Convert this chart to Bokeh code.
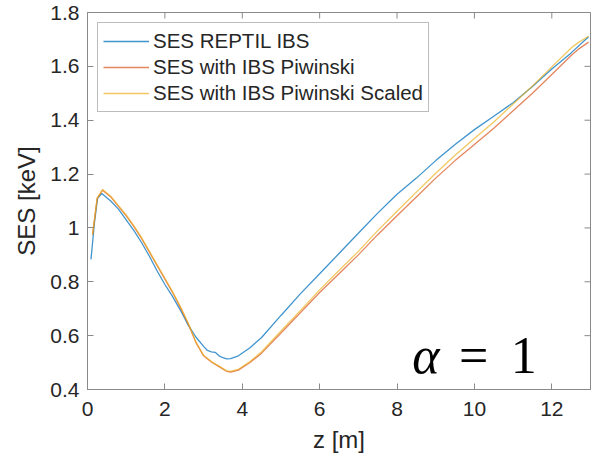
from bokeh.plotting import figure
from bokeh.models import Range1d, FixedTicker, Legend, LegendItem, Label
from bokeh.embed import file_html
from bokeh.resources import INLINE

# ---- data ----
z_reptil = [0.09, 0.18, 0.26, 0.37, 0.6, 0.8, 1.0, 1.2, 1.4, 1.6, 1.8, 2.0, 2.2, 2.4, 2.6, 2.8,
            3.0, 3.1, 3.2, 3.3, 3.4, 3.5, 3.6, 3.7, 3.9, 4.2, 4.5, 5.0, 5.5, 6.0, 6.5, 7.0,
            7.5, 8.0, 8.5, 9.0, 9.5, 10.0, 10.5, 11.0, 11.5, 12.0, 12.5, 12.95]
ses_reptil = [0.883, 1.02, 1.11, 1.128, 1.10, 1.07, 1.03, 0.99, 0.945, 0.895, 0.84, 0.79, 0.745,
              0.695, 0.64, 0.595, 0.56, 0.545, 0.54, 0.538, 0.525, 0.518, 0.514, 0.515, 0.525,
              0.555, 0.593, 0.675, 0.755, 0.83, 0.905, 0.98, 1.055, 1.125, 1.185, 1.25, 1.31,
              1.365, 1.415, 1.465, 1.525, 1.59, 1.65, 1.71]

z_piw = [0.13, 0.25, 0.39, 0.6, 0.8, 1.0, 1.2, 1.4, 1.6, 1.8, 2.0, 2.2, 2.4, 2.6, 2.8, 3.0,
         3.2, 3.4, 3.6, 3.7, 3.9, 4.2, 4.5, 5.0, 5.5, 6.0, 6.5, 7.0, 7.5, 8.0, 8.5, 9.0, 9.5,
         10.0, 10.5, 11.0, 11.5, 12.0, 12.5, 12.7, 12.95]
ses_piw = [0.975, 1.11, 1.14, 1.115, 1.08, 1.045, 1.005, 0.96, 0.91, 0.86, 0.81, 0.76, 0.705,
           0.645, 0.575, 0.525, 0.502, 0.485, 0.467, 0.465, 0.472, 0.50, 0.535, 0.61, 0.685,
           0.76, 0.83, 0.90, 0.975, 1.045, 1.115, 1.185, 1.25, 1.31, 1.37, 1.435, 1.50, 1.57,
           1.64, 1.665, 1.69]

z_scaled = [0.13, 0.25, 0.39, 0.6, 0.8, 1.0, 1.2, 1.4, 1.6, 1.8, 2.0, 2.2, 2.4, 2.6, 2.8, 3.0,
            3.2, 3.4, 3.6, 3.7, 3.9, 4.2, 4.5, 5.0, 5.5, 6.0, 6.5, 7.0, 7.5, 8.0, 8.5, 9.0, 9.5,
            10.0, 10.5, 11.0, 11.5, 12.0, 12.5, 12.7, 12.95]
ses_scaled = [0.975, 1.11, 1.143, 1.118, 1.083, 1.048, 1.008, 0.963, 0.913, 0.863, 0.813, 0.763,
              0.708, 0.647, 0.577, 0.527, 0.504, 0.487, 0.469, 0.467, 0.475, 0.504, 0.54, 0.617,
              0.693, 0.77, 0.842, 0.913, 0.99, 1.062, 1.133, 1.203, 1.27, 1.332, 1.393, 1.46,
              1.527, 1.598, 1.668, 1.69, 1.712]

series_names = ["SES REPTIL IBS", "SES with IBS Piwinski", "SES with IBS Piwinski Scaled"]
series_colors = ["#0072BD", "#D95319", "#EDB120"]

x_ticks = [0, 2, 4, 6, 8, 10, 12]
y_ticks = [0.4, 0.6, 0.8, 1.0, 1.2, 1.4, 1.6, 1.8]
y_tick_labels = ["0.4", "0.6", "0.8", "1", "1.2", "1.4", "1.6", "1.8"]

X_MIN, X_MAX = 0, 13
Y_MIN, Y_MAX = 0.4, 1.8

FONT = "Liberation Sans"
AXIS_GRAY = "#8a8a8a"
TEXT_DARK = "#262626"

W, H = 595, 461
B_LEFT, B_RIGHT, B_TOP, B_BOTTOM = 87, 5, 12, 72

p = figure(width=W, height=H, output_backend="svg", toolbar_location=None,
           x_range=Range1d(X_MIN, X_MAX), y_range=Range1d(Y_MIN, Y_MAX),
           min_border_left=B_LEFT, min_border_top=B_TOP, min_border_right=B_RIGHT,
           min_border_bottom=B_BOTTOM,
           x_axis_label="z [m]", y_axis_label="SES [keV]")
p.background_fill_color = "white"
p.border_fill_color = "white"
p.xgrid.visible = False
p.ygrid.visible = False
p.outline_line_color = AXIS_GRAY
p.outline_line_width = 1

r1 = p.line(z_reptil, ses_reptil, line_color=series_colors[0], line_width=1.3, line_alpha=0.75)
r2 = p.line(z_piw, ses_piw, line_color=series_colors[1], line_width=1.3, line_alpha=0.7)
r3 = p.line(z_scaled, ses_scaled, line_color=series_colors[2], line_width=1.3, line_alpha=0.7)

for ax in (p.xaxis[0], p.yaxis[0]):
    ax.axis_line_color = AXIS_GRAY
    ax.major_tick_line_color = AXIS_GRAY
    ax.minor_tick_line_color = None
    ax.major_tick_in = 6
    ax.major_tick_out = 0
    ax.major_label_text_font = FONT
    ax.major_label_text_color = TEXT_DARK
    ax.major_label_text_font_size = "21px"
    ax.axis_label_text_font = FONT
    ax.axis_label_text_font_style = "normal"
    ax.axis_label_text_font_size = "24px"
    ax.axis_label_text_color = TEXT_DARK

p.xaxis.ticker = FixedTicker(ticks=x_ticks)
p.yaxis.ticker = FixedTicker(ticks=y_ticks)
p.yaxis.major_label_overrides = {v: s for v, s in zip(y_ticks, y_tick_labels)}
p.xaxis.major_label_standoff = 12
p.xaxis.axis_label_standoff = 7
p.yaxis.major_label_standoff = 8
p.yaxis.axis_label_standoff = 7

# inward ticks on the top and right edges of the box (MATLAB "box on")
frame_w = W - B_LEFT - B_RIGHT
frame_h = H - B_TOP - B_BOTTOM
tick_len_x = 6 * (X_MAX - X_MIN) / frame_w
tick_len_y = 6 * (Y_MAX - Y_MIN) / frame_h
p.segment(x0=x_ticks, y0=[Y_MAX] * len(x_ticks), x1=x_ticks,
          y1=[Y_MAX - tick_len_y] * len(x_ticks), line_color=AXIS_GRAY, line_width=1)
p.segment(x0=[X_MAX] * len(y_ticks), y0=y_ticks, x1=[X_MAX - tick_len_x] * len(y_ticks),
          y1=y_ticks, line_color=AXIS_GRAY, line_width=1)

legend = Legend(items=[LegendItem(label=series_names[0], renderers=[r1]),
                       LegendItem(label=series_names[1], renderers=[r2]),
                       LegendItem(label=series_names[2], renderers=[r3])],
                location="top_left", margin=10, padding=5, spacing=0,
                glyph_height=26, glyph_width=46, label_height=26, label_standoff=4,
                label_text_font=FONT, label_text_font_size="20.5px", label_text_color=TEXT_DARK,
                border_line_color="#7a7a7a", border_line_width=1,
                background_fill_color="white", background_fill_alpha=1.0)
p.add_layout(legend, "center")

p.add_layout(Label(x=8.39, y=0.528, text="α", text_font="Liberation Serif",
                   text_font_style="italic", text_font_size="52px", text_color="black",
                   text_baseline="alphabetic"))
p.add_layout(Label(x=9.6, y=0.528, text="=", text_font="Liberation Serif",
                   text_font_size="52px", text_color="black", text_baseline="alphabetic"))
p.add_layout(Label(x=10.94, y=0.528, text="1", text_font="Liberation Serif",
                   text_font_size="52px", text_color="black", text_baseline="alphabetic"))

open("out.html", "w").write(file_html(p, INLINE))
